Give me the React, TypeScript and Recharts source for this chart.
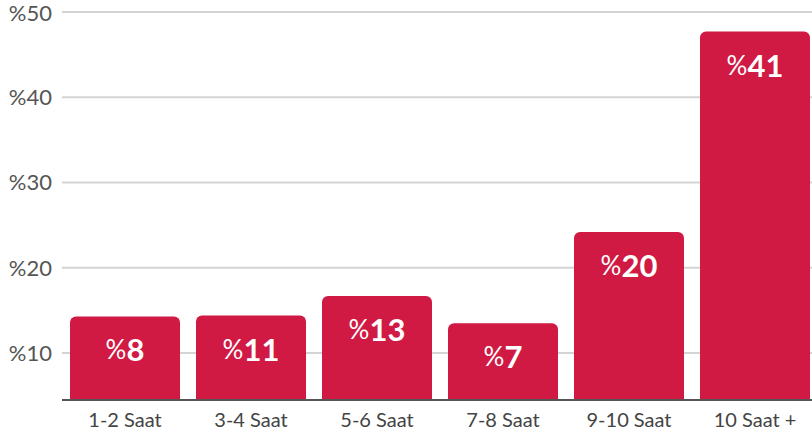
import React from 'react';
import { BarChart, Bar, XAxis, YAxis, CartesianGrid, LabelList } from 'recharts';

// kategoriler ve değerler
const categories = ['1-2 Saat', '3-4 Saat', '5-6 Saat', '7-8 Saat', '9-10 Saat', '10 Saat +'];
const barHeights = [14.3, 14.4, 16.7, 13.5, 24.2, 47.7];
const barLabels = ['8', '11', '13', '7', '20', '41'];
const yTicks = [10, 20, 30, 40, 50];

const data = categories.map((name, i) => ({ name, value: barHeights[i], label: barLabels[i] }));

const FONT = 'Lato, "Open Sans", sans-serif';

const renderLabel = (props: any) => {
  const { x, y, width, index } = props;
  return (
    <text
      x={x + width / 2}
      y={y + 33}
      textAnchor="middle"
      dominantBaseline="central"
      fill="#fff"
      fontFamily={FONT}
    >
      <tspan fontSize={26} fontWeight={400}>%</tspan>
      <tspan fontSize={31} fontWeight={700}>{barLabels[index]}</tspan>
    </text>
  );
};

export default function App() {
  return (
    <div style={{ position: 'absolute', left: 0, top: 0, width: 812, height: 437, overflow: 'hidden', background: '#fff' }}>
      <BarChart
        width={830}
        height={437}
        data={data}
        margin={{ top: 12, right: 12, bottom: 0, left: 0 }}
        barCategoryGap={8}
      >
        <CartesianGrid horizontal vertical={false} stroke="#d4d4d4" strokeWidth={2} />
        <XAxis
          dataKey="name"
          height={37}
          axisLine={{ stroke: '#555', strokeWidth: 2 }}
          tickLine={false}
          tickMargin={7}
          tick={{ fill: '#444', fontSize: 20, fontFamily: FONT }}
        />
        <YAxis
          width={62}
          domain={[4.5, 50]}
          ticks={yTicks}
          axisLine={false}
          tickLine={false}
          tickMargin={4}
          tickFormatter={(v) => `%${v}`}
          tick={{ fill: '#555', fontSize: 22, fontFamily: FONT }}
        />
        <Bar dataKey="value" fill="#d01a43" radius={[6, 6, 0, 0]} isAnimationActive={false}>
          <LabelList dataKey="label" content={renderLabel} />
        </Bar>
      </BarChart>
    </div>
  );
}
